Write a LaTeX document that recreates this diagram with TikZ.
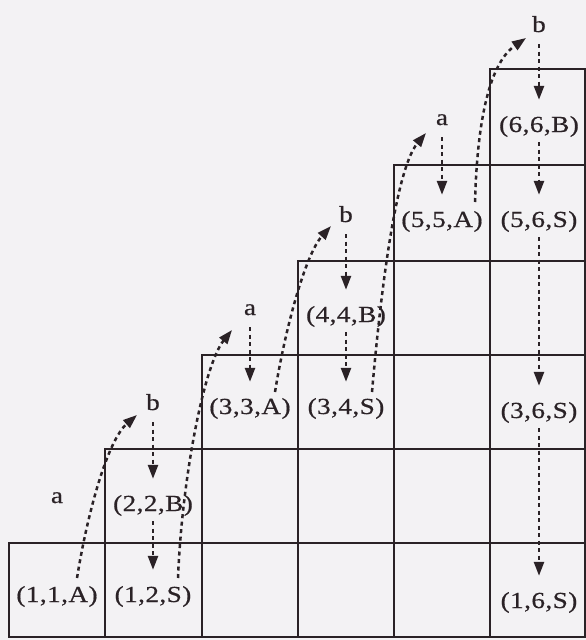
\documentclass[tikz,border=0pt]{standalone}
\usepackage{fontspec}
\setmainfont{Liberation Serif}
\newfontfamily\labfont[FakeStretch=1.18,LetterSpace=2,FakeBold=0.6]{Liberation Serif}
\usetikzlibrary{arrows.meta}
\definecolor{ink}{HTML}{2A2226}
\definecolor{paper}{HTML}{F3F2F4}
\begin{document}
\begin{tikzpicture}[x=1pt,y=1pt,
  lab/.style={font=\labfont\fontsize{23}{27}\selectfont, text=ink, inner sep=0pt, text height=16pt, text depth=5pt, anchor=base},
  inp/.style={font=\labfont\fontsize{23}{27}\selectfont, text=ink, inner sep=0pt, text height=14pt, text depth=0pt, anchor=base},
  gridline/.style={draw=ink, line width=2.2pt},
  darr/.style={draw=ink, line width=2.5pt, dash pattern=on 4pt off 3.5pt, -{Triangle[width=10pt,length=14pt]}},
  vtop/.style={darr, shorten <=12pt, shorten >=16pt},
  vmid/.style={darr, shorten <=5pt, shorten >=16pt}
  ]
\fill[paper] (0,0) rectangle (586,-640);
\useasboundingbox (0,0) rectangle (586,-640);
% staircase grid
\draw[gridline, line join=miter] (9,-637) -- (585,-637) -- (585,-69) -- (490,-69) -- (490,-165) -- (394,-165) -- (394,-261) -- (298,-261) -- (298,-355) -- (202,-355) -- (202,-449) -- (105,-449) -- (105,-543) -- (9,-543) -- cycle;
\draw[gridline] (105,-543) -- (585,-543)
  (202,-449) -- (585,-449)
  (298,-355) -- (585,-355)
  (394,-261) -- (585,-261)
  (490,-165) -- (585,-165);
\draw[gridline] (105,-637) -- (105,-543)
  (202,-637) -- (202,-449)
  (298,-637) -- (298,-355)
  (394,-637) -- (394,-261)
  (490,-637) -- (490,-165);
% cell labels
\node[lab] (A11) at (57,-602) {(1,1,A)};
\node[lab] (S12) at (153,-602) {(1,2,S)};
\node[lab] (B22) at (153,-511) {(2,2,B)};
\node[lab] (A33) at (250,-414) {(3,3,A)};
\node[lab] (S34) at (346,-414) {(3,4,S)};
\node[lab] (B44) at (346,-322) {(4,4,B)};
\node[lab] (A55) at (442,-227) {(5,5,A)};
\node[lab] (S56) at (539,-227) {(5,6,S)};
\node[lab] (B66) at (539,-132) {(6,6,B)};
\node[lab] (S36) at (539,-418) {(3,6,S)};
\node[lab] (S16) at (539,-608) {(1,6,S)};
% input symbols
\node[inp] (a1) at (57,-503) {a};
\node[inp] (b2) at (153,-410) {b};
\node[inp] (a3) at (250,-315) {a};
\node[inp] (b4) at (346,-222) {b};
\node[inp] (a5) at (442,-125) {a};
\node[inp] (b6) at (539,-32) {b};
% vertical arrows
\draw[vtop] (b2.south) -- (B22.north);
\draw[vmid] (B22.south) -- (S12.north);
\draw[vtop] (a3.south) -- (A33.north);
\draw[vtop] (b4.south) -- (B44.north);
\draw[vmid] (B44.south) -- (S34.north);
\draw[vtop] (a5.south) -- (A55.north);
\draw[vtop] (b6.south) -- (B66.north);
\draw[vmid] (B66.south) -- (S56.north);
\draw[vmid] (S56.south) -- (S36.north);
\draw[vmid] (S36.south) -- (S16.north);
% curved arrows
\draw[darr] ([xshift=20pt,yshift=24pt]A11.base) .. controls +(11,68) and +(-29,-25) .. ([xshift=-16pt,yshift=-5pt]b2.base);
\draw[darr] ([xshift=25pt,yshift=24pt]S12.base) .. controls +(4,100) and +(-28,-35) .. ([xshift=-18pt,yshift=-15pt]a3.base);
\draw[darr] ([xshift=25pt,yshift=22pt]A33.base) .. controls +(10,62) and +(-26,-29) .. ([xshift=-15pt,yshift=-4pt]b4.base);
\draw[darr] ([xshift=26pt,yshift=22pt]S34.base) .. controls +(8,92) and +(-31,-37) .. ([xshift=-16pt,yshift=-8pt]a5.base);
\draw[darr] ([xshift=33pt,yshift=25pt]A55.base) .. controls +(2,72) and +(-39,-27) .. ([xshift=-13pt,yshift=-6pt]b6.base);
\end{tikzpicture}
\end{document}
